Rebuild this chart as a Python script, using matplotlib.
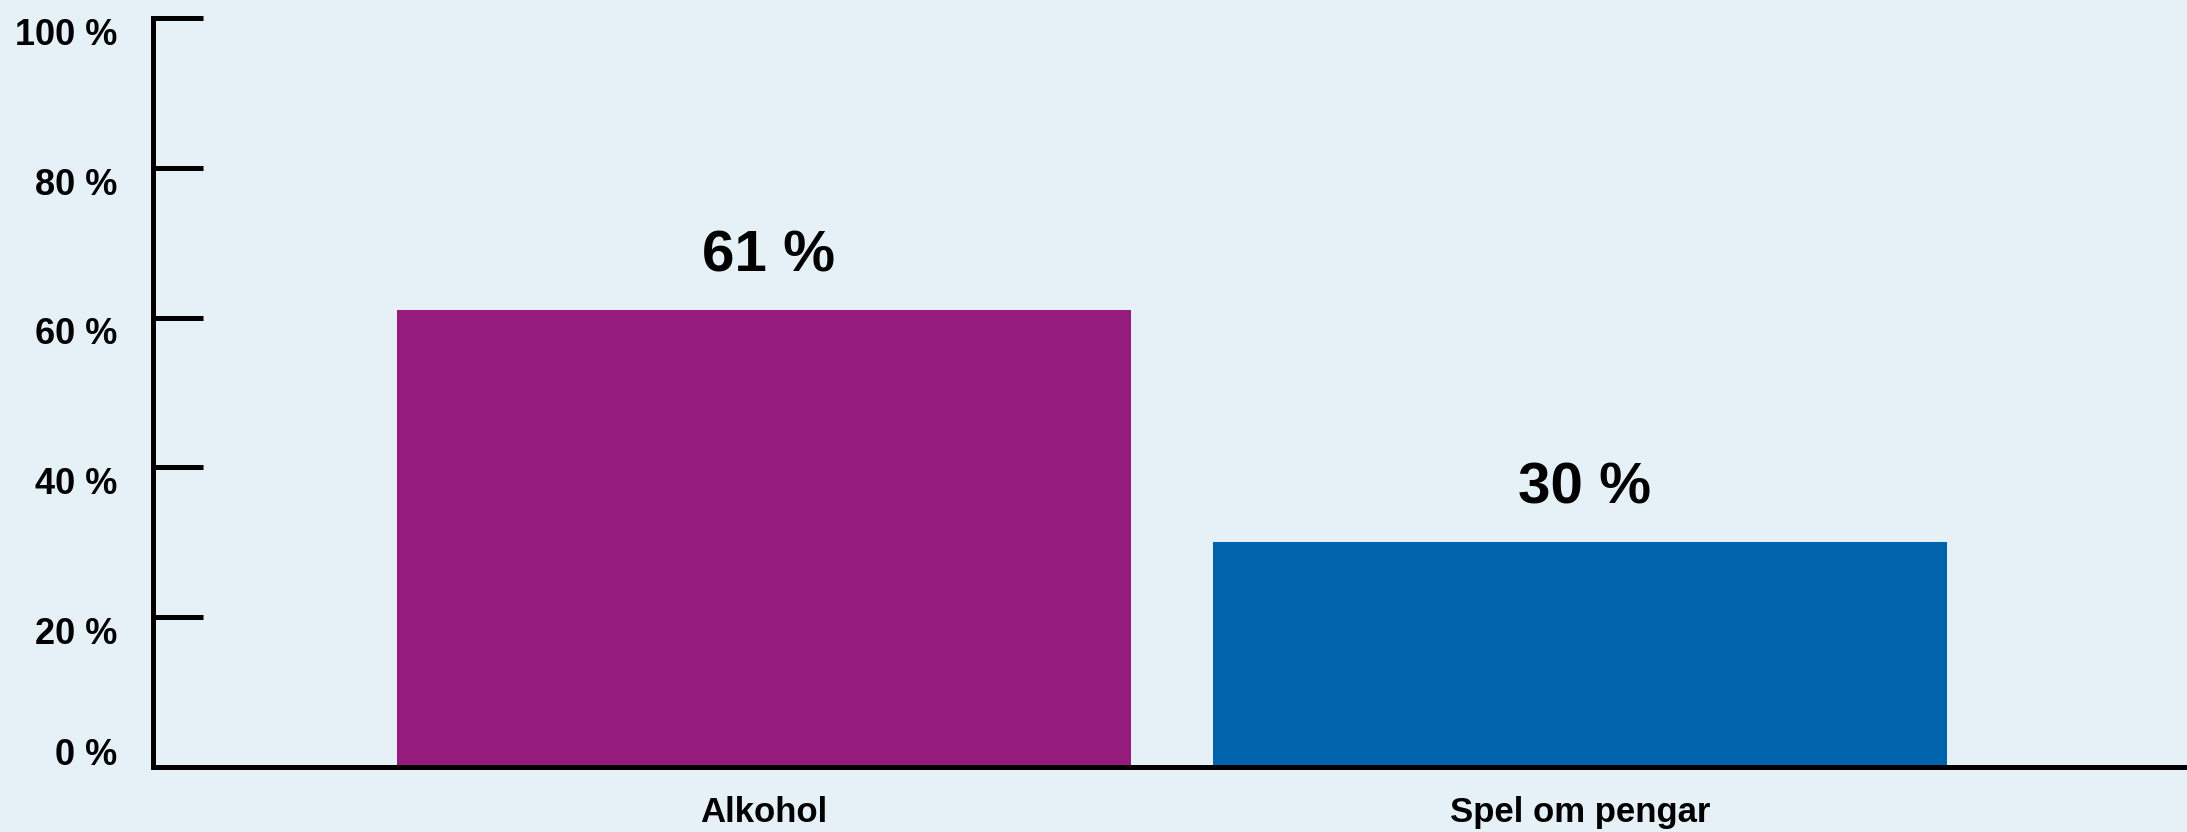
import matplotlib
matplotlib.use("Agg")
import matplotlib.pyplot as plt
import matplotlib.transforms as mtransforms

categories = ["Alkohol", "Spel om pengar"]
values = [61, 30]
value_labels = ["61 %", "30 %"]
yticks = [0, 20, 40, 60, 80, 100]
ytick_labels = ["0 %", "20 %", "40 %", "60 %", "80 %", "100 %"]
bar_colors = ["#951B7D", "#0064AD"]

BG = "#E6F0F7"
plt.rcParams['font.family'] = ['Liberation Sans', 'DejaVu Sans']

fig = plt.figure(figsize=(21.87, 8.32), dpi=100, facecolor=BG)
ax = fig.add_axes([0.0698, 0.0781, 1 - 0.0698, 0.9784 - 0.0781])
ax.set_facecolor(BG)

x = list(range(len(categories)))
bars = ax.bar(x, values, width=0.9, color=bar_colors, zorder=2)

ax.set_xlim(-0.749, 1.744)
ax.set_ylim(0, 100)

for sp in ("top", "right"):
    ax.spines[sp].set_visible(False)
for sp in ("left", "bottom"):
    ax.spines[sp].set_linewidth(3.6)
    ax.spines[sp].set_color("black")
    ax.spines[sp].set_capstyle("projecting")
    ax.spines[sp].set_zorder(3)

ax.set_yticks(yticks)
ax.set_yticklabels([])
ax.tick_params(axis="y", direction="in", length=36, width=3.6, color="black")

# y tick labels drawn as text, slightly offset below their ticks (0 % above)
ytrans = ax.get_yaxis_transform()
for yv, lab in zip(yticks, ytick_labels):
    dy = 8.5 if yv == 0 else -12.5
    off = mtransforms.ScaledTranslation(-25.5 / 72, dy / 72, fig.dpi_scale_trans)
    ax.text(0, yv, lab, transform=ytrans + off, ha="right", va="center",
            fontsize=26, fontweight="bold")

ax.set_xticks(x)
ax.set_xticklabels(categories, fontsize=25, fontweight="bold")
ax.tick_params(axis="x", length=0, pad=21)

for xi, v, lab in zip(x, values, value_labels):
    ax.annotate(lab, (xi, v), xytext=(3, 28), textcoords="offset points",
                ha="center", va="baseline", fontsize=42, fontweight="bold")

fig.savefig("out.png", dpi=100, facecolor=BG)
